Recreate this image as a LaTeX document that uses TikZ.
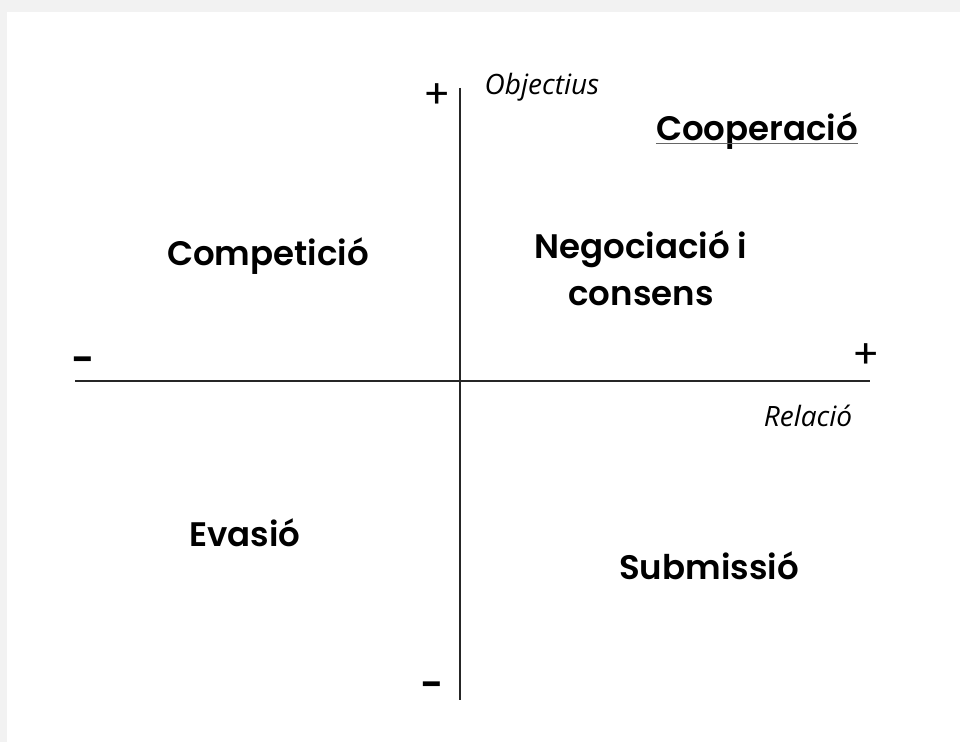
\documentclass[tikz,border=0pt]{standalone}
\usepackage{fontspec}
\setmainfont{Poppins}[BoldFont={Poppins SemiBold}]
\newfontfamily\axisfont{Open Sans}
\usetikzlibrary{positioning}

\tikzset{
	quadrant/.style={font=\fontsize{25.5}{35}\selectfont\bfseries, align=center, inner sep=0pt},
	axislabel/.style={font=\axisfont\itshape\fontsize{21}{22}\selectfont, inner sep=0pt},
	sign/.style={font=\fontsize{30}{32}\selectfont, inner sep=0pt},
	axis/.style={line width=1.8pt, black!85}
}

\begin{document}
\begin{tikzpicture}[x=0.75pt, y=-0.75pt]
	% page with a faint shadow on the left and top
	\fill[black!5] (0,0) rectangle (960,742);
	\fill[white] (7,12) rectangle (960,742);
	\useasboundingbox (0,0) rectangle (960,742);
	% axes
	\coordinate (top) at (460,88);
	\coordinate (bottom) at (460,700);
	\coordinate (left) at (75,381);
	\coordinate (right) at (870,381);
	\draw[axis] (top) -- (bottom);
	\draw[axis] (left) -- (right);
	% signs and axis names
	\node[sign] (plustop) at (437,96) {+};
	\node[sign, font=\fontsize{30}{32}\selectfont\bfseries] (minusbottom) at (432,690) {-};
	\node[sign, font=\fontsize{30}{32}\selectfont\bfseries] (minusleft) at (83,365) {-};
	\node[sign] (plusright) at (866,356) {+};
	\node[axislabel] (objectius) at (542,87) {Objectius};
	\node[axislabel] (relacio) at (808,416) {Relació};
	% quadrants
	\node[quadrant] (cooperacio) at (757,131) {Cooperació};
	\draw[black!60, line width=0.7pt] ([yshift=-2pt]cooperacio.base west) -- ([yshift=-2pt]cooperacio.base east);
	\node[quadrant] (competicio) at (268,256) {Competició};
	\node[quadrant] (negociacio) at (641,268) {Negociació i\\consens};
	\node[quadrant] (evasio) at (245,533) {Evasió};
	\node[quadrant] (submissio) at (709,566) {Submissió};
\end{tikzpicture}
\end{document}
